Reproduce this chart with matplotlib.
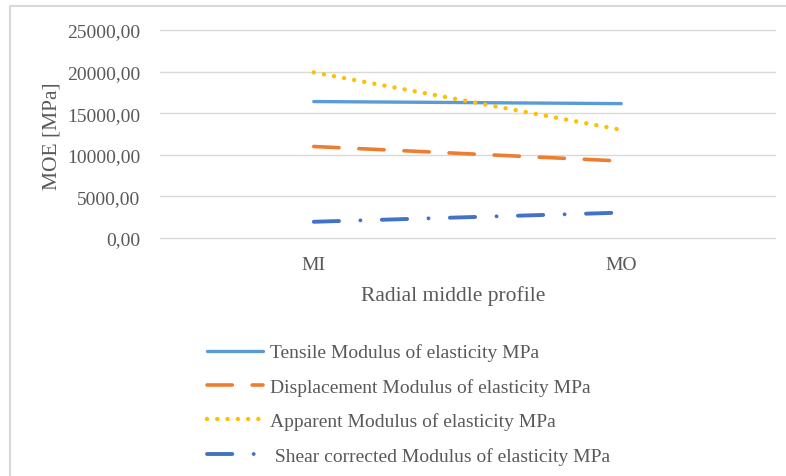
import matplotlib.pyplot as plt
from matplotlib.lines import Line2D
from matplotlib.ticker import FuncFormatter

# Moduli of elasticity along the radial middle profile (MPa)
profiles = ['MI', 'MO']
tensile = [16400, 16150]
displacement = [11000, 9250]
apparent = [19900, 13000]
shear_corrected = [1950, 3050]

series_names = ['Tensile Modulus of elasticity MPa',
                'Displacement Modulus of elasticity MPa',
                'Apparent Modulus of elasticity MPa',
                ' Shear corrected Modulus of elasticity MPa']
y_ticks = [0, 5000, 10000, 15000, 20000, 25000]

text_col = '#595959'
plt.rcParams['font.family'] = ['Liberation Serif', 'DejaVu Serif']

fig = plt.figure(figsize=(7.86, 4.77), dpi=100)
W, H = 786, 477

# chart frame: only the top and left edges are inside the image
fig.add_artist(Line2D([10 / W, 1.0], [1 - 7 / H, 1 - 7 / H],
                      transform=fig.transFigure, color='#D9D9D9', lw=1.5))
fig.add_artist(Line2D([10 / W, 10 / W], [0, 1 - 7 / H],
                      transform=fig.transFigure, color='#D9D9D9', lw=1.5))

ax = fig.add_axes([160 / W, 1 - 239 / H, (775 - 160) / W, (239 - 31) / H])
x = range(len(profiles))

for yt in y_ticks:
    ax.axhline(yt, color='#D9D9D9', lw=1, clip_on=False, zorder=0)

ax.plot(x, tensile, color='#5B9BD5', lw=2.4, solid_capstyle='round',
        label=series_names[0])
ax.plot(x, displacement, color='#ED7D31', lw=2.6, linestyle=(0, (7, 5.5)),
        dash_capstyle='round', label=series_names[1])
ax.plot(x, apparent, color='#FFC000', lw=3.2, linestyle=(0, (0.01, 2.3)),
        dash_capstyle='round', label=series_names[2])
ax.plot(x, shear_corrected, color='#4472C4', lw=2.8,
        linestyle=(0, (6.5, 5.5, 0.01, 5.5)), dash_capstyle='round',
        label=series_names[3])

ax.set_xlim(-0.5, 1.5)
ax.set_ylim(0, 25000)
ax.set_yticks(y_ticks)
ax.yaxis.set_major_formatter(FuncFormatter(lambda v, p: f'{v:.2f}'.replace('.', ',')))
ax.set_xticks(list(x))
ax.set_xticklabels(profiles)
ax.tick_params(axis='both', length=0, labelsize=14, labelcolor=text_col)
ax.tick_params(axis='y', pad=14)
ax.tick_params(axis='x', pad=13)
for s in ax.spines.values():
    s.set_visible(False)

fig.text(52 / W, 1 - 136 / H, 'MOE [MPa]', rotation=90, ha='center',
         va='center', fontsize=15.5, color=text_col)
fig.text(453 / W, 1 - 296 / H, 'Radial middle profile', ha='center',
         va='center', fontsize=15.5, color=text_col)

leg = fig.legend(loc='upper left', bbox_to_anchor=(189 / W, 1 - 327 / H),
                 frameon=False, fontsize=14, handlelength=2.93,
                 handletextpad=0.36, labelspacing=0.85)
for t in leg.get_texts():
    t.set_color(text_col)

fig.savefig('out.png', dpi=100, facecolor='white')
